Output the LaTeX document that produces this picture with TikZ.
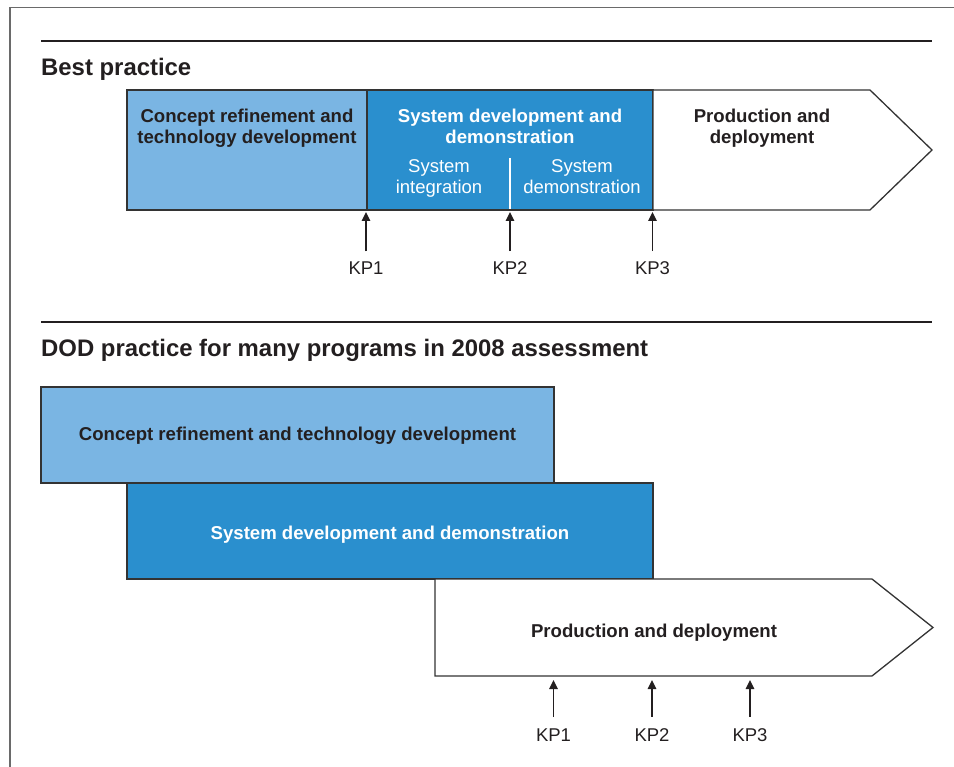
\documentclass[tikz,border=0pt]{standalone}
\usepackage{fontspec}
\setmainfont{Liberation Sans}
\usetikzlibrary{arrows.meta}
\definecolor{lightblu}{HTML}{7AB5E3}
\definecolor{midblu}{HTML}{2A8FCE}
\definecolor{ink}{HTML}{231F20}
\definecolor{edgec}{HTML}{333333}
\definecolor{framegray}{HTML}{6A6A6A}
\begin{document}
\begin{tikzpicture}[x=1pt,y=-1pt,
  boxedge/.style={draw=edgec,line width=1.3pt},
  boldtxt/.style={font=\fontsize{18.6}{21}\selectfont\bfseries,text=ink,align=center,inner sep=0pt},
  regtxt/.style={font=\fontsize{18.5}{21}\selectfont,align=center,inner sep=0pt},
  titletxt/.style={font=\fontsize{23.9}{28}\selectfont\bfseries,text=ink,anchor=base west,inner sep=0pt},
  rulebar/.style={line width=2pt,draw=ink},
  kplabel/.style={font=\fontsize{18.5}{21}\selectfont,text=ink,anchor=base,inner sep=0pt},
  kparrow/.style={-{Triangle[length=9pt,width=8.5pt]},line width=1.5pt,draw=ink}
]
\useasboundingbox (0,0) rectangle (954,767);
% frame
\draw[framegray,line width=1.3pt] (10,767) -- (10,7.5) -- (954,7.5);
% rules
\draw[rulebar] (41,41) -- (932,41);
\draw[rulebar] (41,322.5) -- (932,322.5);
% titles
\node[titletxt] (title1) at (41,75.5) {Best practice};
\node[titletxt] (title2) at (41,357) {DOD practice for many programs in 2008 assessment};

% ---- Best practice ----
\path[boxedge,fill=lightblu] (127,90) rectangle (367,210);
\path[boxedge,fill=midblu] (367,90) rectangle (653,210);
\path[boxedge,fill=white] (653,90) -- (870,90) -- (932,150) -- (870,210) -- (653,210) -- cycle;
\draw[white,line width=1.3pt] (510,158) -- (510,209.2);

\node[boldtxt] (concept1) at (247,128) {Concept refinement and\\technology development};
\node[boldtxt,text=white] (sysdev1) at (510,128) {System development and\\demonstration\vphantom{g}};
\node[regtxt,text=white] (sysint) at (439,178.3) {System\\integration};
\node[regtxt,text=white] (sysdemo) at (582,178.3) {System\\demonstration\vphantom{g}};
\node[boldtxt] (prod1) at (762,128) {Production and\\deployment};

\coordinate (a1) at (366,212);
\coordinate (a2) at (510,212);
\coordinate (a3) at (652.5,212);
\node[kplabel] (kpa1) at (366,275) {KP1};
\node[kplabel] (kpa2) at (510,275) {KP2};
\node[kplabel] (kpa3) at (652.5,275) {KP3};
\draw[kparrow,shorten <=10.8pt] (kpa1) -- (a1);
\draw[kparrow,shorten <=10.8pt] (kpa2) -- (a2);
\draw[kparrow,shorten <=10.8pt] (kpa3) -- (a3);

% ---- DOD practice ----
\path[boxedge,fill=lightblu] (41,387) rectangle (554,483);
\path[boxedge,fill=midblu] (127,483) rectangle (653,579);
\path[boxedge,fill=white] (435,579) -- (872,579) -- (933,627.5) -- (872,676) -- (435,676) -- cycle;

\node[boldtxt] (concept2) at (297.5,435.8) {Concept refinement and technology development};
\node[boldtxt,text=white] (sysdev2) at (390,534.3) {System development and demonstration};
\node[boldtxt] (prod2) at (654,632.8) {Production and deployment};

\coordinate (b1) at (553.5,680);
\coordinate (b2) at (652,680);
\coordinate (b3) at (750,680);
\node[kplabel] (kpb1) at (553.5,741.5) {KP1};
\node[kplabel] (kpb2) at (652,741.5) {KP2};
\node[kplabel] (kpb3) at (750,741.5) {KP3};
\draw[kparrow,shorten <=11.5pt] (kpb1) -- (b1);
\draw[kparrow,shorten <=11.5pt] (kpb2) -- (b2);
\draw[kparrow,shorten <=11.5pt] (kpb3) -- (b3);
\end{tikzpicture}
\end{document}
